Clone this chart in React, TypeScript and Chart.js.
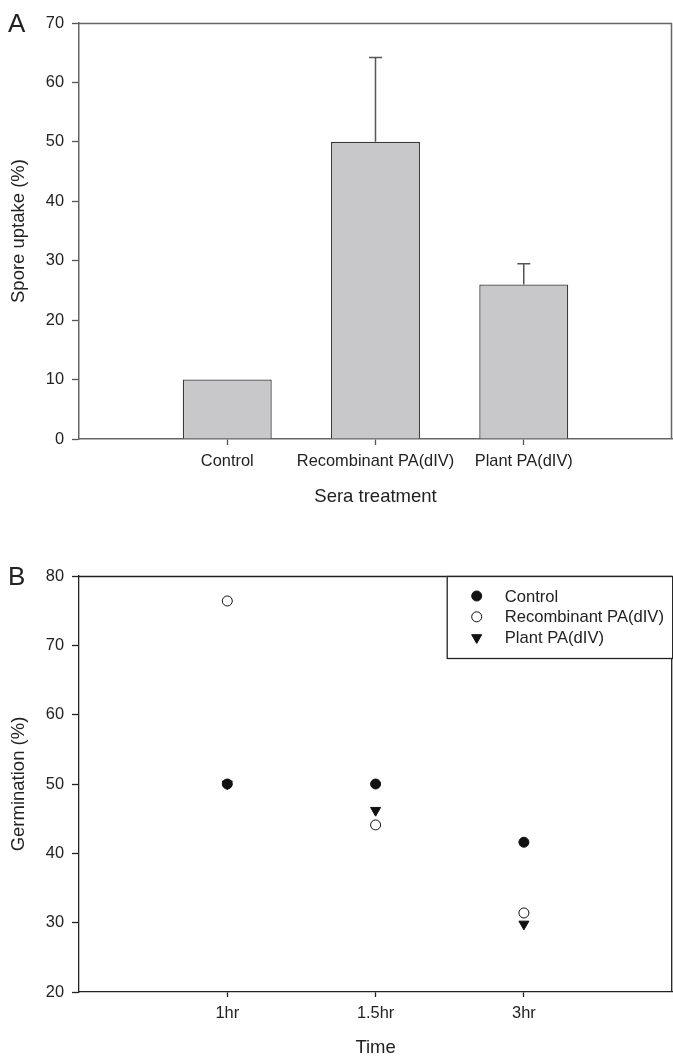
import React, { useEffect, useRef } from 'react';
import { Chart, registerables } from 'chart.js';

Chart.register(...registerables);

// ---------- Data ----------
const treatments = ['Control', 'Recombinant PA(dIV)', 'Plant PA(dIV)'];
const sporeUptake = [10, 50, 26];
const sporeUptakeErr = [0, 14.2, 3.5];
const sporeTicks = [0, 10, 20, 30, 40, 50, 60, 70];

const times = ['1hr', '1.5hr', '3hr'];
const seriesNames = ['Control', 'Recombinant PA(dIV)', 'Plant PA(dIV)'];
const germControl = [50, 50, 41.6];
const germRecombinant = [76.4, 44.1, 31.4];
const germPlant = [50, 46.2, 29.8];
const germTicks = [20, 30, 40, 50, 60, 70, 80];

const FONT = '"Liberation Sans", Arial, Helvetica, sans-serif';
const TEXT = '#222';

function drawMarker(ctx: CanvasRenderingContext2D, style: string, x: number, y: number, r: number, fill: string, stroke: string, rotation: number) {
  ctx.save();
  ctx.beginPath();
  if (style === 'triangle') {
    let rad = (rotation * Math.PI) / 180;
    ctx.moveTo(x + Math.sin(rad) * r, y - Math.cos(rad) * r);
    rad += (2 * Math.PI) / 3;
    ctx.lineTo(x + Math.sin(rad) * r, y - Math.cos(rad) * r);
    rad += (2 * Math.PI) / 3;
    ctx.lineTo(x + Math.sin(rad) * r, y - Math.cos(rad) * r);
    ctx.closePath();
  } else {
    ctx.arc(x, y, r, 0, Math.PI * 2);
  }
  ctx.fillStyle = fill;
  ctx.fill();
  ctx.strokeStyle = stroke;
  ctx.lineWidth = 1;
  ctx.stroke();
  ctx.restore();
}

function framePlugin(color: string, width: number) {
  return {
    id: 'frame',
    afterDraw(chart: any) {
      const { ctx, chartArea: a } = chart;
      ctx.save();
      ctx.strokeStyle = color;
      ctx.lineWidth = width;
      ctx.beginPath();
      ctx.moveTo(a.left, a.top + 0.5);
      ctx.lineTo(a.right, a.top + 0.5);
      ctx.moveTo(a.right - 0.5, a.top);
      ctx.lineTo(a.right - 0.5, a.bottom);
      ctx.stroke();
      ctx.restore();
    },
  };
}

function textPlugin(letter: string, xTitle: string, yTitle: string, xTitleY: number) {
  return {
    id: 'texts',
    afterDraw(chart: any) {
      const { ctx, chartArea: a } = chart;
      ctx.save();
      ctx.fillStyle = TEXT;
      ctx.font = `26px ${FONT}`;
      ctx.textAlign = 'left';
      ctx.textBaseline = 'alphabetic';
      ctx.fillText(letter, 8, a.top + 9);
      ctx.font = `18.5px ${FONT}`;
      ctx.textAlign = 'center';
      ctx.textBaseline = 'middle';
      ctx.fillText(xTitle, (a.left + a.right) / 2, xTitleY);
      ctx.translate(19, (a.top + a.bottom) / 2);
      ctx.rotate(-Math.PI / 2);
      ctx.fillText(yTitle, 0, 0);
      ctx.restore();
    },
  };
}

const errorBarPlugin = {
  id: 'errorBars',
  afterDatasetsDraw(chart: any) {
    const { ctx } = chart;
    const xs = chart.scales.x;
    const ys = chart.scales.y;
    ctx.save();
    ctx.strokeStyle = '#555';
    ctx.lineWidth = 1.5;
    sporeUptake.forEach((v, i) => {
      const e = sporeUptakeErr[i];
      if (!e) return;
      const x = xs.getPixelForValue(i + 1);
      const y0 = ys.getPixelForValue(v);
      const y1 = ys.getPixelForValue(v + e);
      ctx.beginPath();
      ctx.moveTo(x, y0);
      ctx.lineTo(x, y1);
      ctx.moveTo(x - 6.5, y1);
      ctx.lineTo(x + 6.5, y1);
      ctx.stroke();
    });
    ctx.restore();
  },
};

const legendPlugin = {
  id: 'boxLegend',
  afterDraw(chart: any) {
    const { ctx, chartArea: a } = chart;
    const left = a.right - 225.5;
    const top = a.top;
    ctx.save();
    ctx.fillStyle = '#fff';
    ctx.fillRect(left, top, a.right - left, 82);
    ctx.strokeStyle = '#222';
    ctx.lineWidth = 1.3;
    ctx.strokeRect(left + 0.5, top + 0.5, a.right - left, 82);
    chart.data.datasets.forEach((ds: any, i: number) => {
      const y = top + 20 + i * 20.8;
      drawMarker(ctx, ds.pointStyle, left + 30, y, ds.pointRadius, ds.backgroundColor, ds.borderColor, ds.rotation || 0);
      ctx.fillStyle = TEXT;
      ctx.font = `16.6px ${FONT}`;
      ctx.textAlign = 'left';
      ctx.textBaseline = 'middle';
      ctx.fillText(ds.label, left + 58, y + 1);
    });
    ctx.restore();
  },
};

const fixX = (h: number) => (s: any) => {
  s.height = h;
  s.paddingLeft = 0;
  s.paddingRight = 0;
};
const fixY = (s: any) => {
  s.width = 79;
  s.paddingTop = 0;
  s.paddingBottom = 0;
};

export default function App() {
  const refA = useRef<HTMLCanvasElement>(null);
  const refB = useRef<HTMLCanvasElement>(null);

  useEffect(() => {
    const tickFont = { family: FONT, size: 16.4 };

    const chartA = new Chart(refA.current!, {
      type: 'bar',
      data: {
        datasets: [
          {
            data: treatments.map((t, i) => ({ x: i + 1, y: sporeUptake[i] })),
            backgroundColor: '#c8c8ca',
            borderColor: '#3a3a3a',
            borderWidth: 1.3,
            barPercentage: 0.6,
            categoryPercentage: 1,
          } as any,
        ],
      },
      options: {
        animation: false,
        responsive: false,
        layout: { padding: { top: 23, right: 1, left: 0, bottom: 0 } },
        plugins: { legend: { display: false }, tooltip: { enabled: false } },
        scales: {
          x: {
            type: 'linear',
            min: 0,
            max: 4,
            offset: false,
            afterBuildTicks: (s: any) => {
              s.ticks = treatments.map((_, i) => ({ value: i + 1 }));
            },
            afterFit: fixX(89),
            ticks: {
              callback: (_v: any, i: number) => treatments[i],
              font: tickFont,
              color: TEXT,
              padding: 7,
              maxRotation: 0,
              autoSkip: false,
            },
            grid: { offset: false, drawOnChartArea: false, drawTicks: true, tickLength: 6, tickColor: '#555', tickWidth: 1.3 },
            border: { color: '#666', width: 1.5 },
          },
          y: {
            min: 0,
            max: 70,
            afterBuildTicks: (s: any) => {
              s.ticks = sporeTicks.map((v) => ({ value: v }));
            },
            afterFit: fixY,
            ticks: { font: tickFont, color: TEXT, padding: 8 },
            grid: { drawOnChartArea: false, drawTicks: true, tickLength: 7, tickColor: '#555', tickWidth: 1.3 },
            border: { color: '#666', width: 1.5 },
          },
        },
      } as any,
      plugins: [errorBarPlugin, framePlugin('#666', 1.5), textPlugin('A', 'Sera treatment', 'Spore uptake (%)', 497)],
    });

    const mk = (vals: number[]) => vals.map((v, i) => ({ x: i + 1, y: v }));

    const chartB = new Chart(refB.current!, {
      type: 'scatter',
      data: {
        datasets: [
          {
            label: seriesNames[0],
            data: mk(germControl),
            pointStyle: 'circle',
            pointRadius: 5,
            backgroundColor: '#111',
            borderColor: '#111',
            borderWidth: 1,
          },
          {
            label: seriesNames[1],
            data: mk(germRecombinant),
            pointStyle: 'circle',
            pointRadius: 5,
            backgroundColor: '#fff',
            borderColor: '#111',
            borderWidth: 1,
          },
          {
            label: seriesNames[2],
            data: mk(germPlant),
            pointStyle: 'triangle',
            rotation: 180,
            pointRadius: 5.8,
            backgroundColor: '#111',
            borderColor: '#111',
            borderWidth: 1,
          },
        ] as any,
      },
      options: {
        animation: false,
        responsive: false,
        layout: { padding: { top: 48, right: 1, left: 0, bottom: 0 } },
        plugins: { legend: { display: false }, tooltip: { enabled: false } },
        scales: {
          x: {
            type: 'linear',
            min: 0,
            max: 4,
            offset: false,
            afterBuildTicks: (s: any) => {
              s.ticks = times.map((_, i) => ({ value: i + 1 }));
            },
            afterFit: fixX(65),
            ticks: {
              callback: (_v: any, i: number) => times[i],
              font: tickFont,
              color: TEXT,
              padding: 7,
              maxRotation: 0,
              autoSkip: false,
            },
            grid: { offset: false, drawOnChartArea: false, drawTicks: true, tickLength: 5, tickColor: '#222', tickWidth: 1.3 },
            border: { color: '#222', width: 1.3 },
          },
          y: {
            min: 20,
            max: 80,
            afterBuildTicks: (s: any) => {
              s.ticks = germTicks.map((v) => ({ value: v }));
            },
            afterFit: fixY,
            ticks: { font: tickFont, color: TEXT, padding: 8 },
            grid: { drawOnChartArea: false, drawTicks: true, tickLength: 7, tickColor: '#222', tickWidth: 1.3 },
            border: { color: '#222', width: 1.3 },
          },
        },
      } as any,
      plugins: [framePlugin('#222', 1.3), legendPlugin, textPlugin('B', 'Time', 'Germination (%)', 520)],
    });

    return () => {
      chartA.destroy();
      chartB.destroy();
    };
  }, []);

  return (
    <div style={{ position: 'fixed', left: 0, top: 0, width: 673, height: 1057, background: '#fff', overflow: 'hidden' }}>
      <canvas ref={refA} width={673} height={528} style={{ position: 'absolute', left: 0, top: 0, width: 673, height: 528 }} />
      <canvas ref={refB} width={679} height={529} style={{ position: 'absolute', left: 0, top: 528, width: 679, height: 529 }} />
    </div>
  );
}
